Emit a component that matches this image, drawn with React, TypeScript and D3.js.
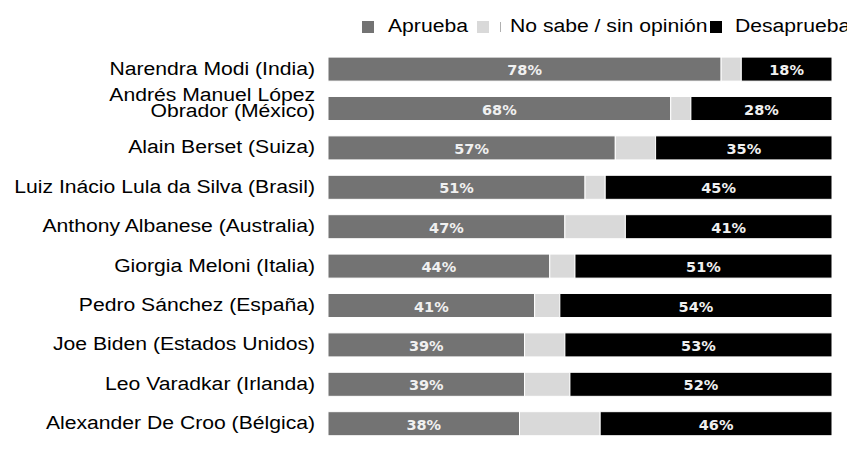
import React from "react";
import * as d3 from "d3";

const leaders = [
  "Narendra Modi (India)",
  "Andrés Manuel López|Obrador (México)",
  "Alain Berset (Suiza)",
  "Luiz Inácio Lula da Silva (Brasil)",
  "Anthony Albanese (Australia)",
  "Giorgia Meloni (Italia)",
  "Pedro Sánchez (España)",
  "Joe Biden (Estados Unidos)",
  "Leo Varadkar (Irlanda)",
  "Alexander De Croo (Bélgica)",
];
const aprueba = [78, 68, 57, 51, 47, 44, 41, 39, 39, 38];
const noSabe = [4, 4, 8, 4, 12, 5, 5, 8, 9, 16];
const desaprueba = [18, 28, 35, 45, 41, 51, 54, 53, 52, 46];
const seriesNames = ["Aprueba", "No sabe / sin opinión", "Desaprueba"];
const seriesColors = ["#737373", "#d9d9d9", "#000000"];

const W = 847;
const H = 450;
const SX = 1.175;

export default function App() {
  const x = d3.scaleLinear().domain([0, 100]).range([328, 832]);
  const y = d3
    .scaleBand<string>()
    .domain(leaders)
    .range([49.4, 443.4])
    .paddingInner(0.39)
    .paddingOuter(0.195);
  const rows = leaders.map((name, i) => ({
    name,
    a: aprueba[i],
    n: noSabe[i],
    d: desaprueba[i],
  }));
  const stack = d3.stack<any>().keys(["a", "n", "d"])(rows);
  const font = "'Liberation Sans', Arial, sans-serif";

  const legendItems = [
    { sq: 362, tx: 388 },
    { sq: 477, tx: 510 },
    { sq: 710, tx: 735 },
  ];

  return (
    <svg
      width={W}
      height={H}
      style={{ position: "absolute", left: 0, top: 0, background: "#fff" }}
    >
      {/* legend */}
      {legendItems.map((it, i) => (
        <g key={i}>
          <rect x={it.sq} y={21} width={12} height={12} fill={seriesColors[i]} />
          <g transform={`translate(${it.tx},0) scale(${SX},1)`}>
            <text x={0} y={32.5} fontFamily={font} fontSize={18} fill="#000">
              {seriesNames[i]}
            </text>
          </g>
        </g>
      ))}
      <line x1={500.5} x2={500.5} y1={22} y2={32} stroke="#b0b0b0" strokeWidth={1} />

      {/* category labels */}
      {leaders.map((name) => {
        const parts = name.split("|");
        const cy = (y(name) as number) + y.bandwidth() / 2;
        return (
          <g key={name} transform={`translate(315,0) scale(${SX},1)`}>
            <text x={0} textAnchor="end" fontFamily={font} fontSize={18} fill="#000">
              {parts.length === 1 ? (
                <tspan x={0} y={cy + 5.5}>
                  {parts[0]}
                </tspan>
              ) : (
                parts.map((p, k) => (
                  <tspan key={k} x={0} y={cy - 7.3 + k * 16}>
                    {p}
                  </tspan>
                ))
              )}
            </text>
          </g>
        );
      })}

      {/* bars */}
      {stack.map((layer, si) => (
        <g key={si}>
          {layer.map((seg, ri) => {
            const name = leaders[ri];
            const x0 = x(seg[0]);
            const x1 = x(seg[1]);
            const by = y(name) as number;
            const val = seg[1] - seg[0];
            return (
              <g key={ri}>
                <rect
                  x={x0}
                  y={by}
                  width={x1 - x0}
                  height={y.bandwidth()}
                  fill={seriesColors[si]}
                  stroke="#ffffff"
                  strokeWidth={1}
                />
                {si !== 1 && (
                  <text
                    x={(x0 + x1) / 2}
                    y={by + y.bandwidth() / 2 + 6}
                    textAnchor="middle"
                    fontFamily="'DejaVu Sans', sans-serif"
                    fontWeight="bold"
                    fontSize={14.5}
                    fill="#f0f0f0"
                  >
                    {val}%
                  </text>
                )}
              </g>
            );
          })}
        </g>
      ))}
    </svg>
  );
}
